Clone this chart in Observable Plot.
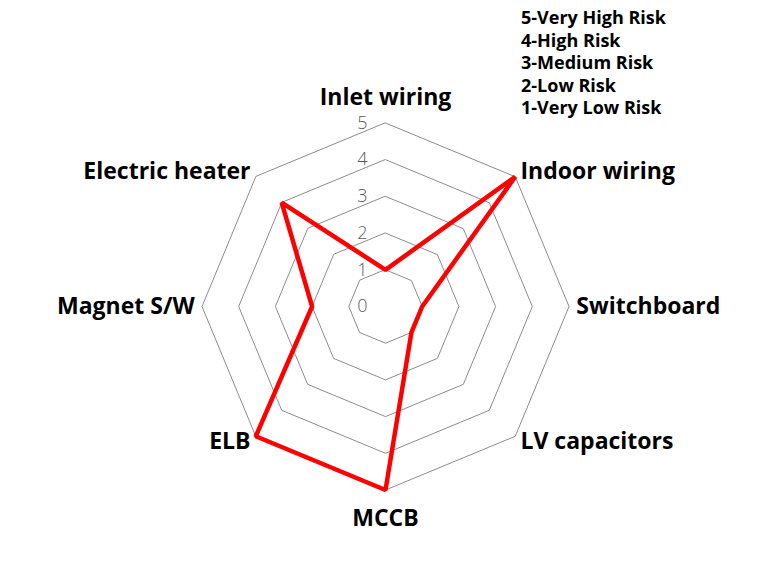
<!DOCTYPE html>
<html>
<head>
<meta charset="utf-8">
<script src="https://cdn.jsdelivr.net/npm/d3@7"></script>
<script src="https://cdn.jsdelivr.net/npm/@observablehq/plot@0.6"></script>
<style>
  html, body { margin: 0; padding: 0; background: #fff; }
  #wrap { position: relative; width: 770px; height: 573px; }
  #legend { position: absolute; left: 521px; top: 6px; font-family: "Open Sans", sans-serif; font-weight: 700; font-size: 18px; line-height: 22.5px; color: #000; }
</style>
</head>
<body>
<div id="wrap"><div id="legend"></div></div>
<script>
const categories = ["Inlet wiring", "Indoor wiring", "Switchboard", "LV capacitors", "MCCB", "ELB", "Magnet S/W", "Electric heater"];
const riskValues = [1, 5, 1, 1, 5, 5, 2, 4];
const ringLevels = [1, 2, 3, 4, 5];
const tickLabels = ["0", "1", "2", "3", "4", "5"];
const legendLines = ["5-Very High Risk", "4-High Risk", "3-Medium Risk", "2-Low Risk", "1-Very Low Risk"];

const n = categories.length;
const ang = i => (i / n) * 2 * Math.PI; // clockwise from top
const px = (r, i) => r * Math.sin(ang(i));
const py = (r, i) => r * Math.cos(ang(i));

const series = categories.map((c, i) => ({cat: c, v: riskValues[i], x: px(riskValues[i], i), y: py(riskValues[i], i)}));
const rings = ringLevels.flatMap(l => categories.map((c, i) => ({level: l, x: px(l, i), y: py(l, i)})));
const ticks = tickLabels.map(t => ({t, v: +t}));

const labelR = 5.2;
const labels = categories.map((c, i) => {
  const s = Math.sin(ang(i));
  const anchor = Math.abs(s) < 1e-6 ? "middle" : (s > 0 ? "start" : "end");
  return {cat: c, x: px(labelR, i), y: py(labelR, i), anchor, top: Math.cos(ang(i)) > 0.5};
});

const unit = 36.7, W = 770, H = 573, cx = 385, cy = 306;
const lf = 23;

const chart = Plot.plot({
  width: W, height: H,
  margin: 0,
  x: {domain: [-cx / unit, (W - cx) / unit], range: [0, W], axis: null},
  y: {domain: [-(H - cy) / unit, cy / unit], range: [H, 0], axis: null},
  style: {fontFamily: "'Open Sans', sans-serif", background: "#fff"},
  marks: [
    Plot.line(rings, {x: "x", y: "y", z: "level", curve: "linear-closed", stroke: "#8c8c8c", strokeWidth: 1}),
    Plot.text(ticks, {x: () => -23 / unit, y: "v", text: "t", fill: "#595959", fontSize: 18, fontWeight: 300}),
    Plot.line(series, {x: "x", y: "y", curve: "linear-closed", stroke: "#ff0000", strokeWidth: 4.5, strokeLinejoin: "miter"}),
    Plot.text(labels.filter(d => d.anchor === "start"), {x: "x", y: "y", text: "cat", textAnchor: "start", fontSize: lf, fontWeight: "bold", fill: "#000"}),
    Plot.text(labels.filter(d => d.anchor === "end"), {x: "x", y: "y", text: "cat", textAnchor: "end", fontSize: lf, fontWeight: "bold", fill: "#000"}),
    Plot.text(labels.filter(d => d.anchor === "middle" && d.top), {x: "x", y: "y", text: "cat", textAnchor: "middle", dy: -18, fontSize: lf, fontWeight: "bold", fill: "#000"}),
    Plot.text(labels.filter(d => d.anchor === "middle" && !d.top), {x: "x", y: "y", text: "cat", textAnchor: "middle", dy: 21, fontSize: lf, fontWeight: "bold", fill: "#000"})
  ]
});
document.getElementById("wrap").prepend(chart);
chart.style.position = "absolute"; chart.style.left = "0"; chart.style.top = "0";
document.getElementById("legend").innerHTML = legendLines.map(l => `<div>${l}</div>`).join("");
</script>
</body>
</html>
